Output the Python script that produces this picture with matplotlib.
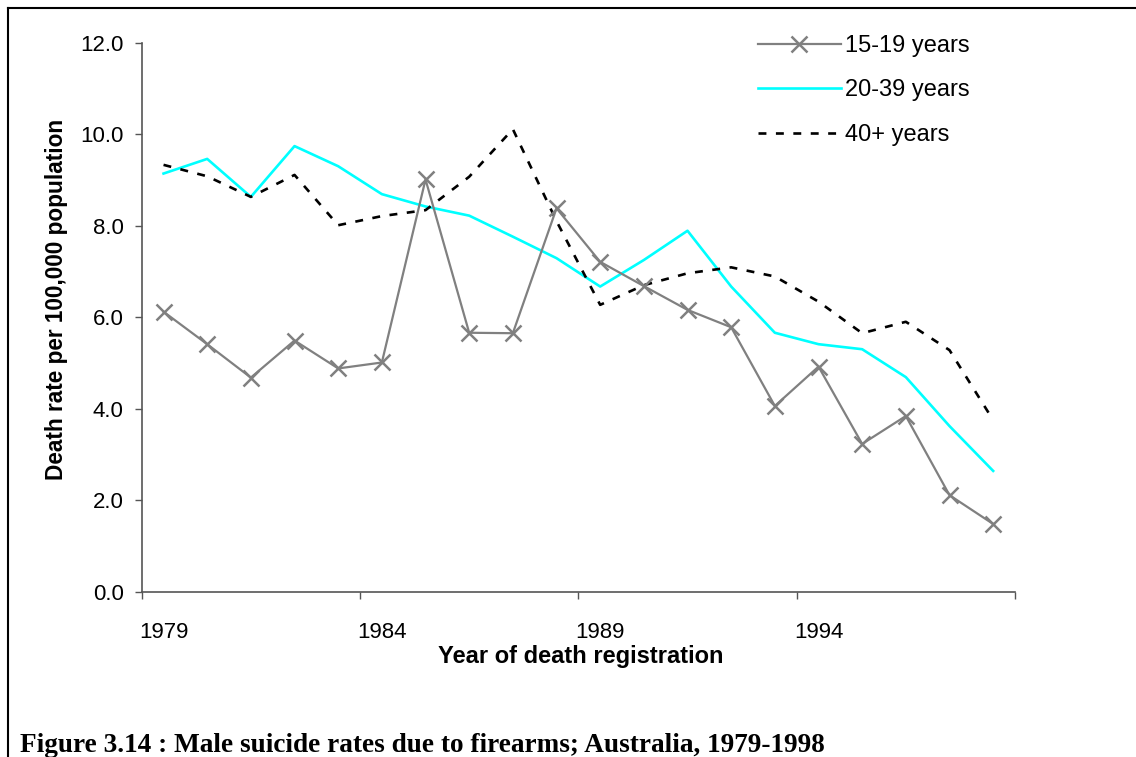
import matplotlib.pyplot as plt
from matplotlib.lines import Line2D

years = list(range(1979, 1999))
label_years = [1979, 1984, 1989, 1994]

rate_15_19 = [6.12, 5.41, 4.68, 5.49, 4.88, 5.01, 9.01, 5.66, 5.65, 8.38,
              7.21, 6.68, 6.16, 5.78, 4.06, 4.92, 3.23, 3.84, 2.11, 1.48]
rate_20_39 = [9.14, 9.46, 8.63, 9.74, 9.30, 8.69, 8.42, 8.22, 7.76, 7.29,
              6.67, 7.25, 7.89, 6.67, 5.66, 5.41, 5.30, 4.69, 3.62, 2.64]
rate_40_plus = [9.33, 9.08, 8.63, 9.11, 8.01, 8.21, 8.34, 9.07, 10.11, 8.10,
                6.27, 6.70, 6.96, 7.09, 6.89, 6.34, 5.65, 5.90, 5.28, 3.75]

series_labels = ["15-19 years", "20-39 years", "40+ years"]

plt.rcParams["font.family"] = ["Liberation Sans", "DejaVu Sans"]

W, H = 1136, 757
fig = plt.figure(figsize=(W / 100, H / 100), dpi=100)
ax = fig.add_axes([141.7 / W, 1 - 591.7 / H, (1015 - 141.7) / W, (591.7 - 42.7) / H])

x = list(range(len(years)))
ax.plot(x, rate_20_39, color="#00FFFF", linewidth=1.9, label=series_labels[1], zorder=2)
ax.plot(x, rate_40_plus, color="black", linewidth=1.9, linestyle=(0, (3.0, 3.6)),
        label=series_labels[2], zorder=3)
ax.plot(x, rate_15_19, color="#808080", linewidth=1.6, marker="x", markersize=12,
        markeredgewidth=1.8, label=series_labels[0], zorder=4)

ax.set_xlim(-0.5, len(years) - 0.5)
ax.set_ylim(0, 12)
ax.set_yticks([0, 2, 4, 6, 8, 10, 12])
ax.set_yticklabels([f"{v:.1f}" for v in [0, 2, 4, 6, 8, 10, 12]])

# ticks sit between the year groups, labels at the year centres
ax.set_xticks([-0.5, 4.5, 9.5, 14.5, 19.5])
ax.set_xticklabels([])
ax.set_xticks([years.index(y) for y in label_years], minor=True)
ax.set_xticklabels([str(y) for y in label_years], minor=True)

for side in ["top", "right"]:
    ax.spines[side].set_visible(False)
for side in ["left", "bottom"]:
    ax.spines[side].set_color("#555555")
    ax.spines[side].set_linewidth(1.2)

ax.tick_params(axis="y", direction="out", length=5, width=1.0, color="#555555",
               labelsize=16, pad=8)
ax.tick_params(axis="x", which="major", direction="out", length=5, width=1.0, color="#555555")
ax.tick_params(axis="x", which="minor", length=0, labelsize=16, pad=22)

fig.text(581 / W, 1 - 656 / H, "Year of death registration", ha="center", va="center",
         fontsize=17, fontweight="bold")
fig.text(57 / W, 1 - 299 / H, "Death rate per 100,000 population", ha="center", va="center",
         rotation=90, fontsize=16.3, fontweight="bold")

handles = [
    Line2D([], [], color="#808080", linewidth=1.6, marker="x", markersize=12, markeredgewidth=1.8),
    Line2D([], [], color="#00FFFF", linewidth=1.9),
    Line2D([], [], color="black", linewidth=1.9, linestyle=(0, (3.0, 3.6))),
]
fig.legend(handles, series_labels, loc="upper left", bbox_to_anchor=(758 / W, 1 - 35 / H),
           frameon=False, fontsize=17, handlelength=3.5, handletextpad=0.2,
           labelspacing=0.95, borderpad=0, borderaxespad=0)

fig.text(20 / W, 1 - 745 / H, "Figure 3.14 : Male suicide rates due to firearms; Australia, 1979-1998",
         ha="left", va="center", fontsize=19.6, fontweight="bold", family="Liberation Serif")

fig.add_artist(Line2D([8 / W, 1], [1 - 8 / H, 1 - 8 / H], color="black", linewidth=1.5))
fig.add_artist(Line2D([8 / W, 8 / W], [0, 1 - 8 / H], color="black", linewidth=1.5))

fig.savefig("out.png", dpi=100)
